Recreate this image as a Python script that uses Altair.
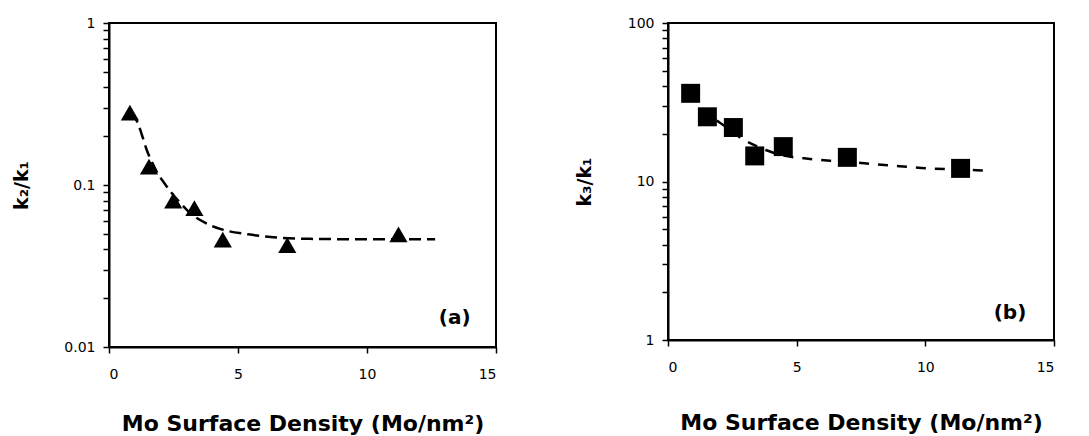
import altair as alt
import pandas as pd

# ---------- Panel (a): k2/k1 ----------
a_x = [0.81, 1.55, 2.49, 3.31, 4.41, 6.91, 11.22]
a_y = [0.28, 0.13, 0.080, 0.072, 0.046, 0.0425, 0.0496]
a_fit_x = [0.85, 1.0, 1.14, 1.27, 1.46, 1.68, 1.91, 2.14, 2.36, 2.78, 3.2, 3.72, 4.37, 5.4, 6.5, 7.8, 9.5, 11.0, 12.64]
a_fit_y = [0.28, 0.262, 0.236, 0.205, 0.165, 0.137, 0.116, 0.103, 0.092, 0.077, 0.066, 0.0585, 0.0532, 0.0496, 0.0474, 0.0465, 0.0463, 0.0463, 0.0463]
a_yticks = [0.01, 0.02, 0.03, 0.04, 0.05, 0.06, 0.07, 0.08, 0.09,
            0.1, 0.2, 0.3, 0.4, 0.5, 0.6, 0.7, 0.8, 0.9, 1]
a_label = ["(a)"]
a_label_x = [13.4]
a_label_y = [0.0151]

# ---------- Panel (b): k3/k1 ----------
b_x = [0.88, 1.53, 2.54, 3.37, 4.48, 6.97, 11.37]
b_y = [36.0, 25.6, 21.9, 14.5, 16.6, 14.2, 12.1]
b_fit_x = [0.88, 1.27, 1.6, 2.24, 2.95, 3.21, 3.8, 4.38, 5.29, 6.3, 7.5, 8.14, 9.0, 10.08, 11.3, 12.54]
b_fit_y = [36.0, 29.6, 26.3, 22.2, 18.3, 17.4, 15.8, 14.7, 14.0, 13.5, 13.1, 12.8, 12.5, 12.1, 11.9, 11.7]
b_yticks = [1, 2, 3, 4, 5, 6, 7, 8, 9, 10, 20, 30, 40, 50, 60, 70, 80, 90, 100]
b_label = ["(b)"]
b_label_x = [13.29]
b_label_y = [1.48]

x_ticks = [0, 5, 10, 15]
x_title = "Mo Surface Density (Mo/nm²)"

FONT = "DejaVu Sans"


def panel(px, py, fx, fy, yticks, ydomain, ytitle, labels, lx, ly, expr,
          shape, size, dash, w, h, ytp, xtp):
    pts = pd.DataFrame({"x": px, "y": py})
    fit = pd.DataFrame({"x": fx, "y": fy})
    lab = pd.DataFrame({"x": lx, "y": ly, "t": labels})

    xenc = alt.X("x:Q",
                 scale=alt.Scale(domain=[0, 15], nice=False),
                 axis=alt.Axis(values=x_ticks, title=x_title, grid=False,
                               tickSize=6, labelPadding=14, labelFontSize=14,
                               labelColor="black", titleFontSize=22,
                               titleFontWeight="bold", titlePadding=xtp,
                               titleColor="black", domainColor="black",
                               domainWidth=2, tickColor="black", tickWidth=1.5,
                               labelFont=FONT, titleFont=FONT))
    yenc = alt.Y("y:Q",
                 scale=alt.Scale(type="log", domain=ydomain, nice=False),
                 axis=alt.Axis(values=yticks, labelExpr=expr, title=ytitle,
                               grid=False, tickSize=6, labelPadding=8,
                               labelFontSize=14, labelColor="black",
                               titleFontSize=19, titleFontWeight="bold",
                               titlePadding=ytp, titleColor="black",
                               domainColor="black", domainWidth=2,
                               tickColor="black", tickWidth=1.5,
                               labelFont=FONT, titleFont=FONT))

    line = alt.Chart(fit).mark_line(
        color="black", strokeWidth=2.5, strokeDash=dash, interpolate="monotone"
    ).encode(x=xenc, y=yenc)
    marks = alt.Chart(pts).mark_point(
        shape=shape, filled=True, size=size, color="black", opacity=1
    ).encode(x="x:Q", y="y:Q")
    text = alt.Chart(lab).mark_text(
        font=FONT, fontSize=20, fontWeight="bold", color="black",
        align="center", baseline="middle"
    ).encode(x="x:Q", y="y:Q", text="t:N")
    return alt.layer(line, marks, text).properties(width=w, height=h)


pa = panel(a_x, a_y, a_fit_x, a_fit_y, a_yticks, [0.01, 1], "k₂/k₁",
           a_label, a_label_x, a_label_y,
           "datum.value == 0.01 ? '0.01' : datum.value == 0.1 ? '0.1' : datum.value == 1 ? '1' : ''",
           "triangle-up", 330, [12, 6], 387, 324, 32, 32)
pb = panel(b_x, b_y, b_fit_x, b_fit_y, b_yticks, [1, 100], "k₃/k₁",
           b_label, b_label_x, b_label_y,
           "datum.value == 1 ? '1' : datum.value == 10 ? '10' : datum.value == 100 ? '100' : ''",
           "square", 360, [10, 9], 386, 317, 33, 38)

chart = alt.hconcat(pa, pb, spacing=76).properties(
    padding={"left": 3, "top": 7, "right": 5, "bottom": 0}
).configure(
    font=FONT, background="white"
).configure_view(
    stroke="black", strokeWidth=2
)

chart.save("out.html", embed_options={"renderer": "svg", "actions": False})
